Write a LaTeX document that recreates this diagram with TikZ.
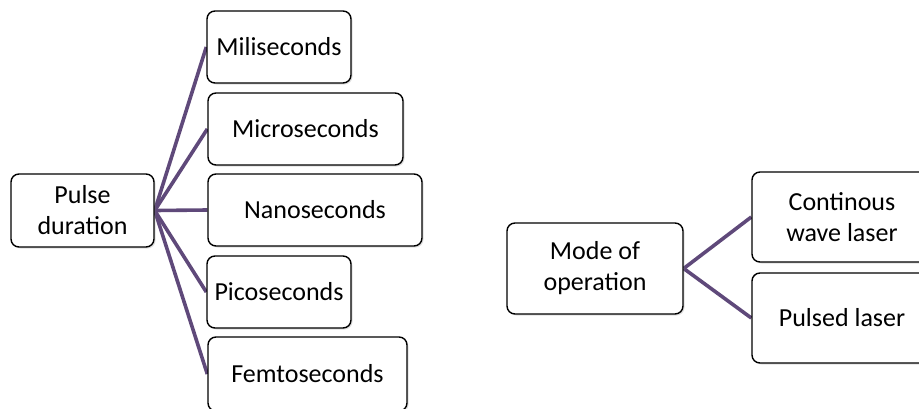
\documentclass[tikz,border=0pt]{standalone}
\usepackage{fontspec}
\setmainfont{Carlito}
\usetikzlibrary{shadows,backgrounds}
\definecolor{linkpurple}{HTML}{5F497A}
\begin{document}
\begin{tikzpicture}[x=1pt,y=-1pt,
  box/.style={draw=black, line width=1.4pt, rounded corners=8pt, fill=white,
    inner sep=0pt, align=center, font=\fontsize{26}{31}\selectfont,
    drop shadow={shadow xshift=1.5pt, shadow yshift=-1.5pt, opacity=0.25, fill=gray}},
  link/.style={draw=linkpurple, line width=3.6pt}]
\useasboundingbox (0,0) rectangle (919,408);
\clip (0,0) rectangle (919,408);
% nodes
\node[box, minimum width=143pt, minimum height=73pt] (pd) at (82.5,210.5) {Pulse\\duration};
\node[box, minimum width=144pt, minimum height=72pt] (ms) at (279,47) {Miliseconds};
\node[box, minimum width=195pt, minimum height=72pt] (us) at (305.5,129) {Microseconds};
\node[box, minimum width=214pt, minimum height=72pt] (ns) at (315,210) {Nanoseconds};
\node[box, minimum width=144pt, minimum height=72pt] (ps) at (279,292) {Picoseconds};
\node[box, minimum width=199pt, minimum height=74pt] (fs) at (307.5,374) {Femtoseconds};
\node[box, minimum width=176pt, minimum height=91pt] (mo) at (595,268.5) {Mode of\\operation};
\node[box, minimum width=180pt, minimum height=90pt] (cw) at (842,217) {Continous\\wave laser};
\node[box, minimum width=180pt, minimum height=90pt] (pl) at (842,318) {Pulsed laser};
% connectors (behind the boxes)
\begin{scope}[on background layer]
\draw[link] (pd.east) -- (ms.west);
\draw[link] (pd.east) -- (us.west);
\draw[link] (pd.east) -- (ns.west);
\draw[link] (pd.east) -- (ps.west);
\draw[link] (pd.east) -- (fs.west);
\draw[link] (mo.east) -- (cw.west);
\draw[link] (mo.east) -- (pl.west);
\end{scope}
\end{tikzpicture}
\end{document}
